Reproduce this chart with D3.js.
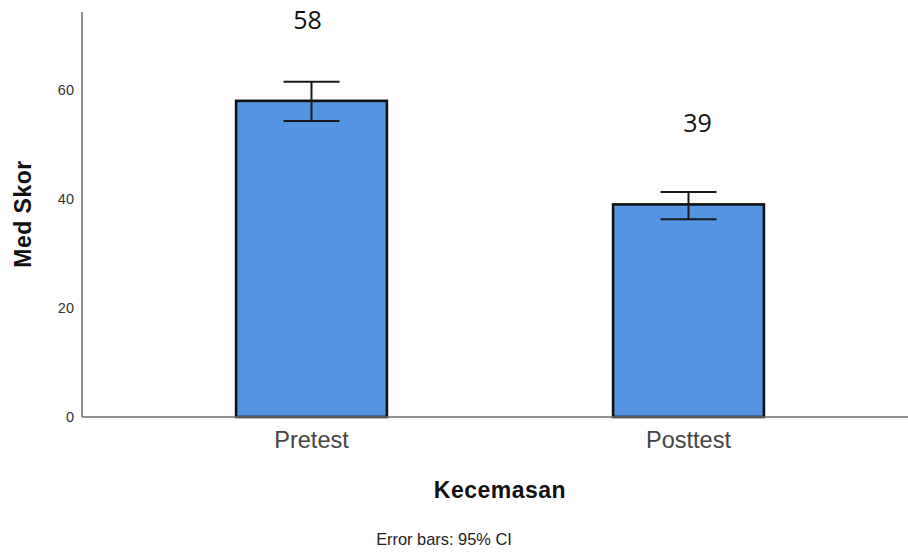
<!DOCTYPE html>
<html>
<head>
<meta charset="utf-8">
<script src="https://cdn.jsdelivr.net/npm/d3@7"></script>
<style>
  html, body { margin: 0; padding: 0; background: #fff; }
  svg { display: block; }
  text { font-family: "Liberation Sans", Arial, sans-serif; }
</style>
</head>
<body>
<svg id="chart" width="908" height="552"></svg>
<script>
// Mean anxiety score before and after, with 95% CI error bars
const categories = ["Pretest", "Posttest"];
const means = [58, 39];
const ciLower = [54.3, 36.3];
const ciUpper = [61.5, 41.3];
const yTicks = [0, 20, 40, 60];

const xTitle = "Kecemasan";
const yTitle = "Med Skor";
const footnote = "Error bars: 95% CI";

const plot = { left: 82, right: 908, top: 12, bottom: 417 };

const svg = d3.select("#chart");

const y = d3.scaleLinear().domain([0, 74.3]).range([plot.bottom, plot.top]);
const x = d3.scaleBand().domain(categories).range([123, 877]).padding(0);
const barW = x.bandwidth() * 0.4;
const cx = c => x(c) + x.bandwidth() / 2;

const data = categories.map((c, i) => ({ c, mean: means[i], lo: ciLower[i], hi: ciUpper[i] }));

// bars
svg.append("g").selectAll("rect").data(data).join("rect")
  .attr("x", d => cx(d.c) - barW / 2)
  .attr("y", d => y(d.mean))
  .attr("width", barW)
  .attr("height", d => y(0) - y(d.mean))
  .attr("fill", "#5594e3")
  .attr("stroke", "#111")
  .attr("stroke-width", 2.6);

// y axis (no tick marks)
const yAxis = svg.append("g")
  .attr("transform", `translate(${plot.left},0)`)
  .call(d3.axisLeft(y).tickValues(yTicks).tickSize(0).tickPadding(8).tickFormat(d3.format("d")));
yAxis.select(".domain").remove();
yAxis.selectAll("text")
  .attr("font-size", 14.5)
  .attr("fill", "#333")
  .style("font-family", "'Liberation Sans', Arial, sans-serif");

svg.append("line")
  .attr("x1", plot.left).attr("x2", plot.left)
  .attr("y1", plot.top).attr("y2", plot.bottom)
  .attr("stroke", "#6e6e6e").attr("stroke-width", 1.5);

// x axis
const xAxis = svg.append("g")
  .attr("transform", `translate(0,${plot.bottom})`)
  .call(d3.axisBottom(x).tickSize(0).tickPadding(14));
xAxis.select(".domain").remove();
xAxis.selectAll("text")
  .attr("font-size", 23.5)
  .attr("fill", "#444")
  .style("font-family", "'Liberation Sans', Arial, sans-serif");

svg.append("line")
  .attr("x1", plot.left).attr("x2", plot.right)
  .attr("y1", plot.bottom).attr("y2", plot.bottom)
  .attr("stroke", "#6e6e6e").attr("stroke-width", 1.5);

// error bars
const cap = 28;
const eb = svg.append("g").attr("stroke", "#1a1a1a").attr("stroke-width", 2);
eb.selectAll("line.v").data(data).join("line").attr("class", "v")
  .attr("x1", d => cx(d.c)).attr("x2", d => cx(d.c))
  .attr("y1", d => y(d.hi)).attr("y2", d => y(d.lo));
eb.selectAll("line.t").data(data).join("line").attr("class", "t")
  .attr("x1", d => cx(d.c) - cap).attr("x2", d => cx(d.c) + cap)
  .attr("y1", d => y(d.hi)).attr("y2", d => y(d.hi));
eb.selectAll("line.b").data(data).join("line").attr("class", "b")
  .attr("x1", d => cx(d.c) - cap).attr("x2", d => cx(d.c) + cap)
  .attr("y1", d => y(d.lo)).attr("y2", d => y(d.lo));

// mean value annotations
const labelDx = [-4, 9];
svg.append("g").selectAll("text").data(data).join("text")
  .attr("x", (d, i) => cx(d.c) + labelDx[i])
  .attr("y", d => y(d.mean) - 72)
  .attr("text-anchor", "middle")
  .attr("font-size", 25)
  .attr("fill", "#111")
  .style("font-family", "'Open Sans', 'Noto Sans', sans-serif")
  .text(d => d3.format("d")(d.mean));

// axis titles
svg.append("text")
  .attr("x", 500).attr("y", 498)
  .attr("text-anchor", "middle")
  .attr("font-size", 23).attr("font-weight", "bold")
  .attr("letter-spacing", 0.5)
  .attr("fill", "#111")
  .text(xTitle);

svg.append("text")
  .attr("transform", "translate(31,214) rotate(-90)")
  .attr("text-anchor", "middle")
  .attr("font-size", 23).attr("font-weight", "bold")
  .attr("letter-spacing", 0.5)
  .attr("fill", "#111")
  .text(yTitle);

svg.append("text")
  .attr("x", 444).attr("y", 545)
  .attr("text-anchor", "middle")
  .attr("font-size", 16.4)
  .attr("fill", "#222")
  .text(footnote);
</script>
</body>
</html>
